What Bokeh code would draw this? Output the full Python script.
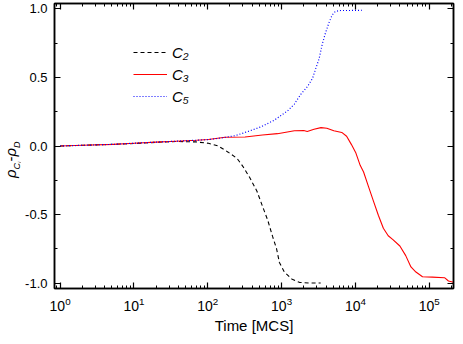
from bokeh.plotting import figure
from bokeh.layouts import row
from bokeh.models import (Legend, LegendItem, FixedTicker, LinearAxis, LogAxis, Div,
                          LogTicker, CustomJSTickFormatter, PrintfTickFormatter, Range1d)
from bokeh.embed import file_html
from bokeh.resources import INLINE

# ---- data ----
t_c2 = [1, 2, 5, 10, 22, 37, 68, 102, 139, 189, 249, 300, 370, 464, 556, 648, 755, 855,
        934, 1090, 1370, 1740, 2400, 3385]
y_c2 = [0.0, 0.005, 0.012, 0.018, 0.028, 0.033, 0.03, 0.02, 0.0, -0.045, -0.09, -0.15,
        -0.23, -0.33, -0.445, -0.54, -0.66, -0.75, -0.85, -0.92, -0.97, -0.995, -1.0, -1.0]

t_c3 = [1, 2, 5.2, 10, 20, 37, 70, 102, 172, 320, 550, 880, 1490, 2000, 2225, 2750, 3420,
        4100, 5100, 6530, 7600, 8800, 10070, 11600, 12900, 15000, 17500, 20500, 23900,
        27800, 32200, 40000, 48000, 56500, 66000, 81000, 110000, 161000, 182000, 213000]
y_c3 = [0.0, 0.005, 0.012, 0.02, 0.028, 0.035, 0.042, 0.047, 0.064, 0.066, 0.08, 0.09,
        0.111, 0.113, 0.106, 0.122, 0.134, 0.13, 0.111, 0.099, 0.071, 0.012, -0.047,
        -0.141, -0.19, -0.295, -0.40, -0.507, -0.60, -0.655, -0.683, -0.73, -0.80,
        -0.883, -0.92, -0.954, -0.957, -0.961, -0.985, -0.994]

t_c5 = [1, 2, 5.2, 10, 20, 37, 70, 102, 160, 234, 352, 532, 800, 987, 1220, 1490, 1820,
        2260, 2630, 2900, 3220, 3550, 3930, 4350, 4820, 5340, 6270, 8460, 12800]
y_c5 = [0.0, 0.005, 0.012, 0.02, 0.028, 0.035, 0.042, 0.047, 0.06, 0.075, 0.106, 0.141,
        0.189, 0.224, 0.259, 0.306, 0.377, 0.436, 0.495, 0.565, 0.636, 0.742, 0.825,
        0.895, 0.954, 0.982, 0.989, 0.989, 0.991]

labels = ["C\u2082", "C\u2083", "C\u2085"]
x_title = "Time [MCS]"
y_ticks = [-1.0, -0.5, 0.0, 0.5, 1.0]
y_minor = [-0.75, -0.25, 0.25, 0.75]

FONT = "Liberation Sans"
DIV_W = 20

p = figure(width=455 - DIV_W, height=336, x_axis_type="log",
           x_range=Range1d(0.84, 2.13e5), y_range=Range1d(-1.04, 1.04),
           output_backend="svg", toolbar_location=None,
           min_border_left=34, min_border_right=2, min_border_top=3, min_border_bottom=44)
p.grid.visible = False
p.outline_line_color = "black"
p.outline_line_width = 1.5
p.background_fill_color = "white"
p.border_fill_color = "white"

r2 = p.line(t_c2, y_c2, line_color="black", line_width=1.1, line_dash="4 3")
r3 = p.line(t_c3, y_c3, line_color="#ff0000", line_width=1.1)
r5 = p.line(t_c5, y_c5, line_color="#0000ff", line_width=1.2, line_dash="1 2")


def style_axis(ax, size="14px"):
    ax.axis_line_width = 1.5
    ax.axis_line_color = "black"
    ax.major_tick_in = 6
    ax.major_tick_out = 0
    ax.minor_tick_in = 3
    ax.minor_tick_out = 0
    ax.major_tick_line_width = 1.2
    ax.minor_tick_line_width = 1.0
    ax.major_tick_line_color = "black"
    ax.minor_tick_line_color = "black"
    ax.major_label_text_font = FONT
    ax.major_label_text_font_size = size
    ax.major_label_text_color = "black"


xa = p.xaxis[0]
style_axis(xa, "14px")
xa.ticker = LogTicker(num_minor_ticks=10)
xa.major_label_standoff = 8
xa.axis_label = x_title
xa.axis_label_text_font = FONT
xa.axis_label_text_font_size = "15px"
xa.axis_label_text_font_style = "normal"
xa.axis_label_text_color = "black"
xa.axis_label_standoff = 3

ya = p.yaxis[0]
style_axis(ya, "13px")
ya.ticker = FixedTicker(ticks=y_ticks, minor_ticks=y_minor)
ya.formatter = PrintfTickFormatter(format="%.1f")
ya.major_label_standoff = 7

blank = CustomJSTickFormatter(code="return ''")
top = LogAxis(ticker=LogTicker(num_minor_ticks=10), formatter=blank)
style_axis(top)
top.major_label_standoff = 0
p.add_layout(top, "above")

right = LinearAxis(ticker=FixedTicker(ticks=y_ticks, minor_ticks=y_minor), formatter=blank)
style_axis(right)
right.major_label_standoff = 0
p.add_layout(right, "right")

legend = Legend(items=[LegendItem(label=labels[0], renderers=[r2]),
                       LegendItem(label=labels[1], renderers=[r3]),
                       LegendItem(label=labels[2], renderers=[r5])],
                location=(79, 182), orientation="vertical",
                glyph_width=34, glyph_height=20, spacing=2, padding=0, margin=0,
                label_standoff=5, label_text_font=FONT, label_text_font_size="15px",
                label_text_font_style="italic", label_text_color="black",
                border_line_color=None, background_fill_alpha=0)
p.add_layout(legend)

# y-axis title rho_{C_i}-rho_D as rotated HTML text
ytitle_html = (
    '<div style="position:relative;width:20px;height:336px;">'
    '<div style="position:absolute;left:4px;top:178px;transform:rotate(-90deg);'
    'transform-origin:0 0;white-space:nowrap;font-family:\'Liberation Sans\';'
    'font-size:15px;line-height:14px;color:black;">'
    '<i>\u03c1</i><span style="font-size:9px;position:relative;top:4px;"><i>C</i>'
    '<span style="font-size:6px;position:relative;top:2px;"><i>i</i></span></span>'
    '-<i>\u03c1</i><span style="font-size:9px;position:relative;top:4px;"><i>D</i></span>'
    '</div></div>')
ydiv = Div(text=ytitle_html, width=DIV_W, height=336, margin=0)

layout = row(ydiv, p, spacing=0)
open("out.html", "w").write(file_html(layout, INLINE))
